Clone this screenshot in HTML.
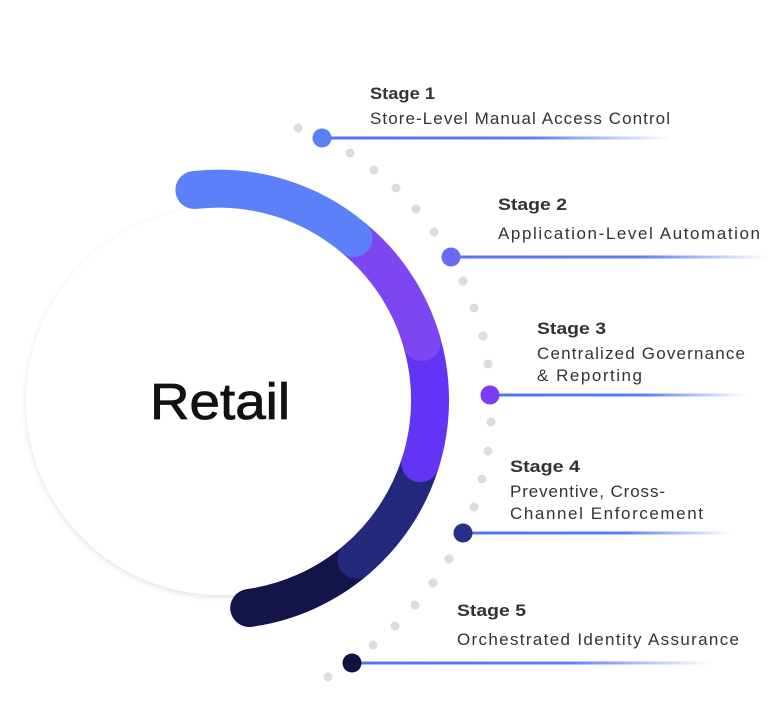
<!DOCTYPE html>
<html><head><meta charset="utf-8"><style>
html,body{margin:0;padding:0;background:#fff;}
svg{display:block;}
.t{font-family:"Liberation Sans",sans-serif;fill:#333;}
.b{font-weight:bold;font-size:17px;}
.d{font-size:17px;}
</style></head><body>
<svg width="768" height="705" viewBox="0 0 768 705" xmlns="http://www.w3.org/2000/svg">
<defs>
<filter id="sh" x="-20%" y="-20%" width="140%" height="140%"><feDropShadow dx="0" dy="2" stdDeviation="3" flood-color="#000" flood-opacity="0.12"/></filter>
<linearGradient id="lg" x1="0" x2="1" y1="0" y2="0"><stop offset="0" stop-color="#4f73f3"/><stop offset="0.6" stop-color="#5b7ff7"/><stop offset="1" stop-color="#5b7ff7" stop-opacity="0"/></linearGradient>
</defs>
<circle cx="220" cy="401" r="194" fill="#fff" filter="url(#sh)"/>
<g fill="none" stroke-width="38" stroke-linecap="round">
<path d="M356.4 559.7 A210 210 0 0 1 249.2 608.0" stroke="#15144a"/>
<path d="M420.3 463.2 A210 210 0 0 1 356.4 559.7" stroke="#23287a"/>
<path d="M421.9 342.1 A210 210 0 0 1 420.3 463.2" stroke="#6434f6"/>
<path d="M353.6 238.0 A210 210 0 0 1 421.9 342.1" stroke="#7e45f2"/>
<path d="M194.4 190 A210 210 0 0 1 353.6 238.0" stroke="#5b80f7"/>
</g>
<text x="150" y="419" font-family="Liberation Sans,sans-serif" font-size="51" font-weight="500" fill="#111" stroke="#111" stroke-width="0.8" textLength="140" lengthAdjust="spacingAndGlyphs">Retail</text>
<g fill="#dcdcdc">
<circle cx="298" cy="128" r="4.5"/><circle cx="350" cy="153" r="4.5"/><circle cx="374" cy="170" r="4.5"/><circle cx="396" cy="188" r="4.5"/><circle cx="416" cy="209" r="4.5"/><circle cx="434" cy="232" r="4.5"/>
<circle cx="463" cy="281" r="4.5"/><circle cx="474" cy="308" r="4.5"/><circle cx="483" cy="336" r="4.5"/><circle cx="488" cy="364" r="4.5"/>
<circle cx="491" cy="422" r="4.5"/><circle cx="488" cy="451" r="4.5"/><circle cx="482" cy="479" r="4.5"/><circle cx="474" cy="507" r="4.5"/>
<circle cx="449" cy="559" r="4.5"/><circle cx="433" cy="583" r="4.5"/><circle cx="415" cy="605" r="4.5"/><circle cx="395" cy="626" r="4.5"/><circle cx="373" cy="645" r="4.5"/><circle cx="328" cy="677" r="4.5"/>
</g>
<g>
<rect x="322" y="136.5" width="350" height="3" fill="url(#lg)"/>
<rect x="451" y="255.5" width="317" height="3" fill="url(#lg)"/>
<rect x="490" y="393.5" width="256" height="3" fill="url(#lg)"/>
<rect x="463" y="531.5" width="270" height="3" fill="url(#lg)"/>
<rect x="352" y="661.5" width="360" height="3" fill="url(#lg)"/>
<circle cx="322" cy="138" r="9.5" fill="#5b7ff7"/>
<circle cx="451" cy="257" r="9.5" fill="#6a6af5"/>
<circle cx="490" cy="395" r="9.5" fill="#7a3cf5"/>
<circle cx="463" cy="533" r="9.5" fill="#26308a"/>
<circle cx="352" cy="663" r="9.5" fill="#12123f"/>
</g>
<g class="t">
<text class="b" x="370" y="99" textLength="65" lengthAdjust="spacingAndGlyphs">Stage 1</text>
<text class="d" x="370" y="124" textLength="300">Store-Level Manual Access Control</text>
<text class="b" x="498" y="210" textLength="69" lengthAdjust="spacingAndGlyphs">Stage 2</text>
<text class="d" x="498" y="239" textLength="262">Application-Level Automation</text>
<text class="b" x="537" y="334" textLength="69" lengthAdjust="spacingAndGlyphs">Stage 3</text>
<text class="d" x="537" y="359" textLength="208">Centralized Governance</text>
<text class="d" x="537" y="381" textLength="105">&amp; Reporting</text>
<text class="b" x="510" y="472" textLength="70" lengthAdjust="spacingAndGlyphs">Stage 4</text>
<text class="d" x="510" y="497" textLength="155">Preventive, Cross-</text>
<text class="d" x="510" y="519" textLength="193">Channel Enforcement</text>
<text class="b" x="457" y="616" textLength="69" lengthAdjust="spacingAndGlyphs">Stage 5</text>
<text class="d" x="457" y="645" textLength="282">Orchestrated Identity Assurance</text>
</g>
</svg>
</body></html>
